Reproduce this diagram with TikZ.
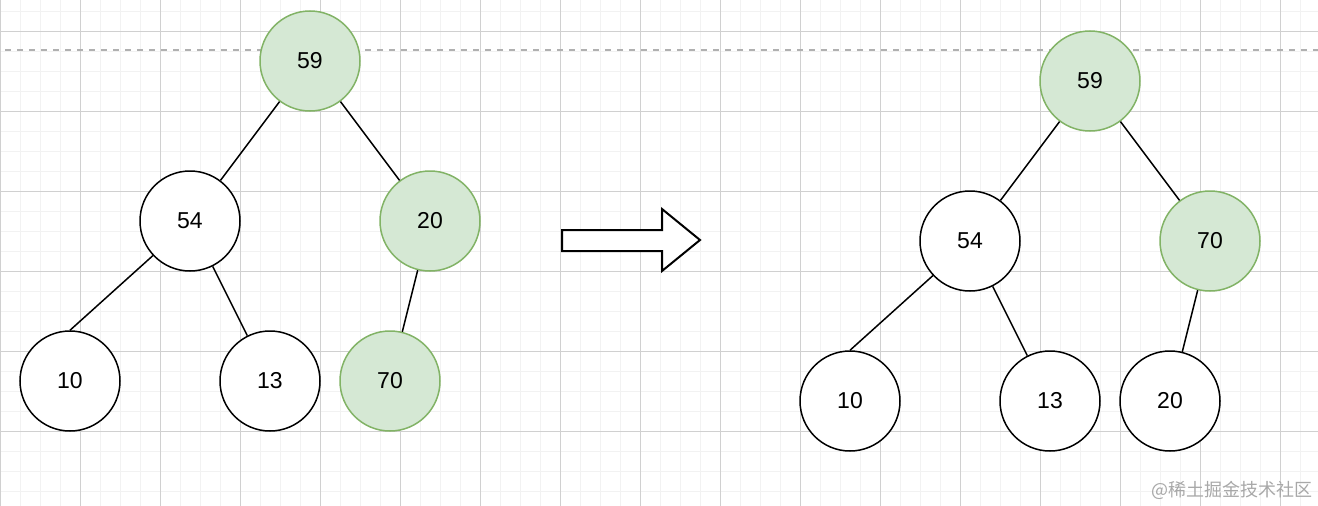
\documentclass[tikz,border=0pt]{standalone}
\usepackage{fontspec}
\setmainfont{Liberation Sans}
\newfontfamily\cjkfont{Noto Sans CJK SC}
\definecolor{gfill}{HTML}{D5E8D4}
\definecolor{gline}{HTML}{82B366}
\definecolor{minorgrid}{HTML}{F2F2F2}
\definecolor{majorgrid}{HTML}{D0D0D0}
\definecolor{dashgray}{HTML}{B0B0B0}
\definecolor{wmgray}{HTML}{A8A8A8}
\begin{document}
\begin{tikzpicture}[x=1pt,y=-1pt,
  treenode/.style={circle,draw=black,fill=white,line width=1.5pt,minimum size=100pt,inner sep=0pt,font=\fontsize{23}{27}\selectfont},
  greennode/.style={treenode,draw=gline,fill=gfill},
  edge/.style={draw=black,line width=1.5pt}]
\useasboundingbox (0,0) rectangle (1318,506);
\fill[white] (0,0) rectangle (1318,506);
% grid
\foreach \x in {0,20,...,1318} \draw[minorgrid,line width=1pt] (\x,0) -- (\x,506);
\foreach \y in {11,31,...,506} \draw[minorgrid,line width=1pt] (0,\y) -- (1318,\y);
\foreach \x in {0,80,...,1318} \draw[majorgrid,line width=1pt] (\x,0) -- (\x,506);
\foreach \y in {31,111,...,506} \draw[majorgrid,line width=1pt] (0,\y) -- (1318,\y);
% dashed line
\coordinate (dl) at (5,50);
\coordinate (dr) at (1318,50);
\draw[dashgray,line width=1.5pt,dash pattern=on 6pt off 6pt] (dl) -- (dr);
% left tree
\node[greennode] (a59) at (310,61) {59};
\node[treenode] (a54) at (190,221) {54};
\node[greennode] (a20) at (430,221) {20};
\node[treenode] (a10) at (70,381) {10};
\node[treenode] (a13) at (270,381) {13};
\node[greennode] (a70) at (390,381) {70};
\draw[edge] (a59) -- (a54);
\draw[edge] (a59) -- (a20);
\draw[edge] (a54.223) -- (a10.north);
\draw[edge] (a54) -- (a13);
\draw[edge] (a20) -- (a70);
% block arrow
\draw[black,fill=white,line width=2pt,line join=miter]
  (562,230) -- (662,230) -- (662,209) -- (700,240) -- (662,271) -- (662,251) -- (562,251) -- cycle;
% right tree
\node[greennode] (b59) at (1090,81) {59};
\node[treenode] (b54) at (970,241) {54};
\node[greennode] (b70) at (1210,241) {70};
\node[treenode] (b10) at (850,401) {10};
\node[treenode] (b13) at (1050,401) {13};
\node[treenode] (b20) at (1170,401) {20};
\draw[edge] (b59) -- (b54);
\draw[edge] (b59) -- (b70);
\draw[edge] (b54.223) -- (b10.north);
\draw[edge] (b54) -- (b13);
\draw[edge] (b70) -- (b20);
% watermark
\node[anchor=east,inner sep=0pt,text=wmgray,font=\cjkfont\fontsize{18}{20}\selectfont] (wm) at (1313,490) {@稀土掘金技术社区};
\end{tikzpicture}
\end{document}
